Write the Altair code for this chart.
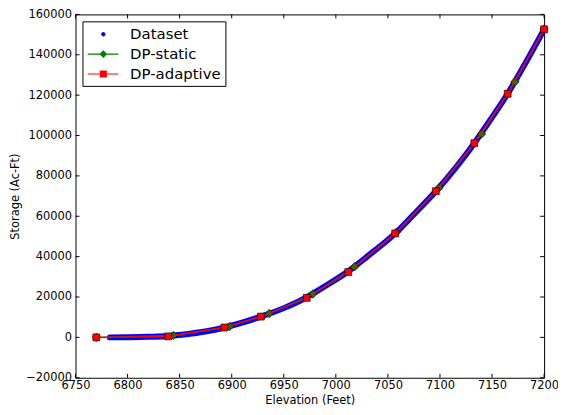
import altair as alt
import pandas as pd

# ---- data ----
dataset_x = [6783, 6800, 6820, 6840, 6860, 6880, 6893, 6910, 6928, 6950, 6971, 6990,
             7011, 7030, 7057, 7075, 7096, 7115, 7133, 7150, 7165, 7180, 7200]
dataset_y = [0, 100, 300, 700, 1800, 3400, 4900, 7300, 10300, 14500, 19600, 25500,
             32400, 40000, 51500, 61000, 72400, 84000, 96200, 109000, 120700, 134000, 152600]

static_x = [6770, 6844, 6898, 6936, 6978, 7018, 7058, 7099, 7140, 7172, 7200]
static_y = [0, 1000, 5400, 11800, 21500, 35000, 52000, 74000, 100800, 126600, 152800]

adaptive_x = [6770, 6839, 6893, 6928, 6972, 7012, 7057, 7096, 7133, 7165, 7200]
adaptive_y = [0, 500, 4900, 10300, 19600, 32400, 51500, 72400, 96200, 120700, 152600]

series_names = ["Dataset", "DP-static", "DP-adaptive"]
series_colors = ["#0000ff", "#008000", "#ff0000"]

x_ticks = [6750, 6800, 6850, 6900, 6950, 7000, 7050, 7100, 7150, 7200]
y_ticks = [-20000, 0, 20000, 40000, 60000, 80000, 100000, 120000, 140000, 160000]

W, H = 472, 366
FONT = "DejaVu Sans"

df_data = pd.DataFrame({"x": dataset_x, "y": dataset_y, "series": "Dataset"})
df_static = pd.DataFrame({"x": static_x, "y": static_y, "series": "DP-static"})
df_adapt = pd.DataFrame({"x": adaptive_x, "y": adaptive_y, "series": "DP-adaptive"})
df_all = pd.concat([df_data, df_static, df_adapt], ignore_index=True)

xscale = alt.Scale(domain=[6750, 7200], nice=False, zero=False)
yscale = alt.Scale(domain=[-20000, 160000], nice=False, zero=False)

X = alt.X("x:Q", scale=xscale,
          axis=alt.Axis(title="Elevation (Feet)", values=x_ticks, format="d", ticks=False,
                        tickSize=0, domain=False, grid=False, labelPadding=2, titlePadding=3,
                        labelOverlap=False, labelFlush=False, labelBound=False))
Y = alt.Y("y:Q", scale=yscale,
          axis=alt.Axis(title="Storage (Ac-Ft)", values=y_ticks, format="d", ticks=False,
                        tickSize=0, domain=False, grid=False, labelPadding=4, titlePadding=5,
                        labelOverlap=False, labelFlush=False, labelBound=False))

blue = alt.Chart(df_data).mark_line(color="#0000ff", strokeWidth=6, strokeCap="round",
                                    interpolate="monotone").encode(x=X, y=Y)

green_line = alt.Chart(df_static).mark_line(color="#008000", strokeWidth=1.2).encode(x="x:Q", y="y:Q")
green_pts = alt.Chart(df_static).mark_point(shape="diamond", filled=True, fill="#008000",
                                            stroke="black", strokeWidth=0.6, size=72,
                                            opacity=1).encode(x="x:Q", y="y:Q")
red_line = alt.Chart(df_adapt).mark_line(color="#ff0000", strokeWidth=1.5).encode(x="x:Q", y="y:Q")
red_pts = alt.Chart(df_adapt).mark_point(shape="square", filled=True, fill="#ff0000",
                                         stroke="black", strokeWidth=0.6, size=49,
                                         opacity=1).encode(x="x:Q", y="y:Q")

# legend symbols (line + marker) as custom paths
line_part = "M-0.86,-0.06H2.56V0.06H-0.86Z"
dot_path = "M0.65,0A0.24,0.24 0 1,0 1.13,0A0.24,0.24 0 1,0 0.65,0Z"
diamond_path = line_part + "M0.45,0L0.89,-0.44L1.33,0L0.89,0.44Z"
square_path = line_part + "M0.5,-0.39H1.28V0.39H0.5Z"

legend_layer = alt.Chart(df_all).mark_point(filled=True, size=0, opacity=1).encode(
    x="x:Q", y="y:Q",
    color=alt.Color("series:N", scale=alt.Scale(domain=series_names, range=series_colors),
                    sort=series_names,
                    legend=alt.Legend(title=None, orient="top-left", offset=7, padding=4,
                                      strokeColor="black", fillColor="white",
                                      labelFont=FONT, labelFontSize=15, labelColor="black",
                                      labelOffset=26, rowPadding=3, symbolSize=324,
                                      symbolOpacity=1, symbolStrokeWidth=0)),
    shape=alt.Shape("series:N", scale=alt.Scale(domain=series_names,
                                                range=[dot_path, diamond_path, square_path]),
                    sort=series_names, legend=alt.Legend(title=None)),
)

# inward ticks on all four sides
df_xt = pd.DataFrame({"x": x_ticks})
df_yt = pd.DataFrame({"y": y_ticks})
tk = 4
xt_bottom = alt.Chart(df_xt).mark_rule(color="black", strokeWidth=1).encode(
    x="x:Q", y=alt.value(H), y2=alt.value(H - tk))
xt_top = alt.Chart(df_xt).mark_rule(color="black", strokeWidth=1).encode(
    x="x:Q", y=alt.value(0), y2=alt.value(tk))
yt_left = alt.Chart(df_yt).mark_rule(color="black", strokeWidth=1).encode(
    y="y:Q", x=alt.value(0), x2=alt.value(tk))
yt_right = alt.Chart(df_yt).mark_rule(color="black", strokeWidth=1).encode(
    y="y:Q", x=alt.value(W), x2=alt.value(W - tk))

chart = alt.layer(
    blue, green_line, green_pts, red_line, red_pts, legend_layer,
    xt_bottom, xt_top, yt_left, yt_right
).properties(
    width=W, height=H,
    autosize=alt.AutoSizeParams(type="none"),
    padding={"left": 68, "top": 5, "right": 14, "bottom": 30},
).configure(
    font=FONT, background="white"
).configure_view(
    stroke="black", strokeWidth=1
).configure_axis(
    labelFont=FONT, titleFont=FONT, labelFontSize=11.5, titleFontSize=11.5,
    labelColor="black", titleColor="black", titleFontWeight="normal"
)

chart.save("out.html", embed_options={"renderer": "svg", "actions": False})
